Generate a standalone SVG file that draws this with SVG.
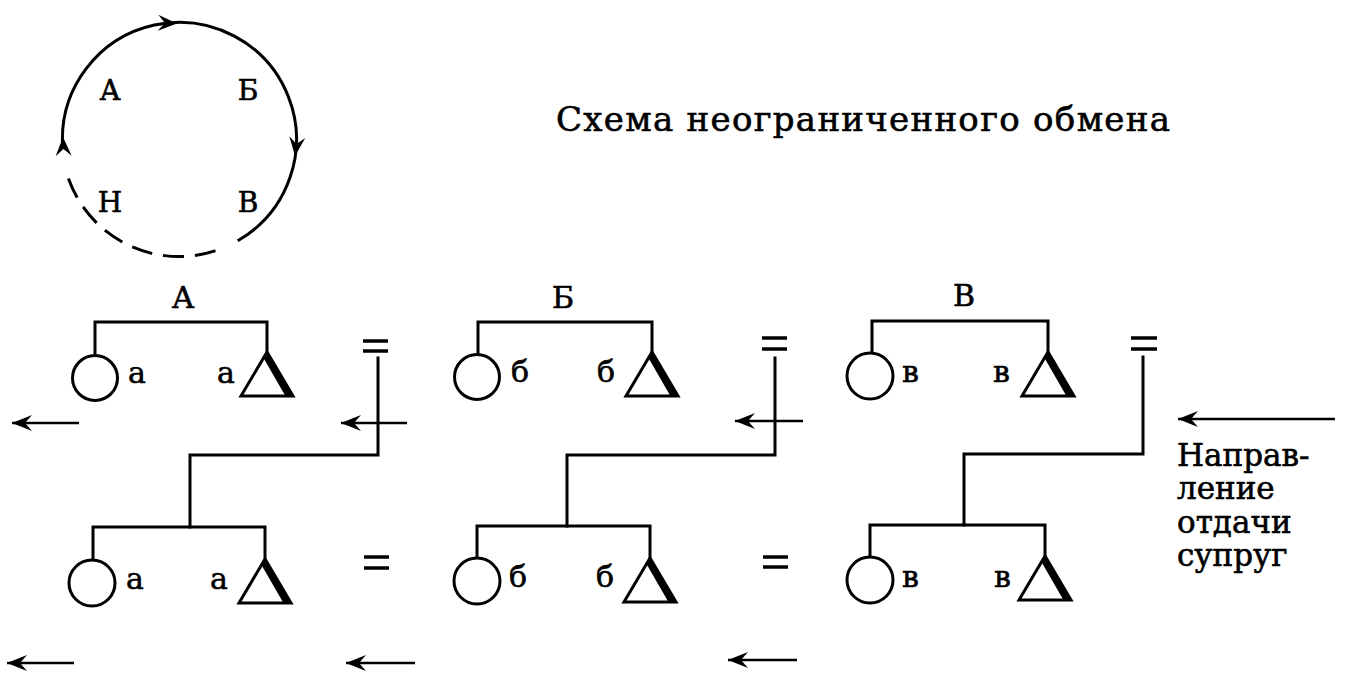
<svg xmlns="http://www.w3.org/2000/svg" xmlns:xlink="http://www.w3.org/1999/xlink" width="1346" height="686" viewBox="0 0 1346 686">
<style>
  .ln{fill:none;stroke:#000;stroke-width:3;stroke-linecap:square;stroke-linejoin:miter}
  .ci{fill:#fff;stroke:#000;stroke-width:3}
  .eq{stroke:#000;stroke-width:3.5;stroke-linecap:butt}
  .arr{stroke:#000;stroke-width:2.5;fill:none}
  .t{font-family:"DejaVu Serif","Liberation Serif",serif;fill:#000;stroke:#000;stroke-width:0.6}
  .big{font-size:30px}
  .sm{font-size:30px}
  .cl{font-size:28px}
</style>
<defs>
  <marker id="ah" viewBox="-22 -11 24 22" markerUnits="userSpaceOnUse" markerWidth="24" markerHeight="22" refX="0" refY="0" orient="auto">
    <path d="M0,0 L-20,-8 L-13,0 L-20,8 Z" fill="#000"/>
  </marker>
  <path id="head" d="M0,0 L-19,-8 L-12,0 L-19,8 Z" fill="#000"/>
  <g id="tri">
    <polygon points="0,0 -26,44 26,44" fill="#fff" stroke="#000" stroke-width="3" stroke-linejoin="miter"/>
    <polygon points="0,-1 27,45 19,45 -3.5,6" fill="#000"/>
  </g>
</defs>

<rect width="1346" height="686" fill="#fff"/>

<!-- cycle diagram -->
<g id="cycle">
  <path class="ln" d="M239,240 A117,117 0 1 0 62.6,146"/>
  <path class="ln" d="M69,180 A117,117 0 0 0 220,249" stroke-dasharray="18 14" stroke-linecap="butt"/>
  <use xlink:href="#head" transform="translate(177,23.5) rotate(2)"/>
  <use xlink:href="#head" transform="translate(295,156) rotate(97)"/>
  <use xlink:href="#head" transform="translate(63,137) rotate(-92)"/>
  <text class="t cl" x="110" y="100" text-anchor="middle">А</text>
  <text class="t cl" x="248" y="100" text-anchor="middle">Б</text>
  <text class="t cl" x="110" y="212" text-anchor="middle">Н</text>
  <text class="t cl" x="248" y="212" text-anchor="middle">В</text>
</g>

<g id="title">
  <text class="t" x="556" y="131" font-size="34" textLength="614" lengthAdjust="spacing">Схема неограниченного обмена</text>
</g>

<!-- top row families -->
<g id="family-A-top">
  <text class="t big" x="183" y="308" text-anchor="middle">А</text>
  <path class="ln" d="M95,355 V322 H267 V352"/>
  <circle class="ci" cx="95" cy="378" r="22.5"/>
  <use xlink:href="#tri" x="267" y="352"/>
  <text class="t sm" x="128" y="383">а</text>
  <text class="t sm" x="217" y="383">а</text>
</g>
<g id="family-B-top">
  <text class="t big" x="563" y="308" text-anchor="middle">Б</text>
  <path class="ln" d="M478,354 V322 H652 V352"/>
  <circle class="ci" cx="477" cy="377" r="22.5"/>
  <use xlink:href="#tri" x="652" y="352"/>
  <text class="t sm" x="511" y="382">б</text>
  <text class="t sm" x="597" y="382">б</text>
</g>
<g id="family-V-top">
  <text class="t big" x="964" y="306" text-anchor="middle">В</text>
  <path class="ln" d="M872,353 V321 H1048 V352"/>
  <circle class="ci" cx="870" cy="376" r="23"/>
  <use xlink:href="#tri" x="1048" y="352"/>
  <text class="t sm" x="902" y="382">в</text>
  <text class="t sm" x="993" y="382">в</text>
</g>

<!-- bottom row families -->
<g id="family-A-bottom">
  <path class="ln" d="M93,560 V527 H265 V559"/>
  <circle class="ci" cx="92" cy="583" r="23"/>
  <use xlink:href="#tri" x="265" y="559"/>
  <text class="t sm" x="126" y="589">а</text>
  <text class="t sm" x="210" y="589">а</text>
</g>
<g id="family-B-bottom">
  <path class="ln" d="M477,558 V526 H650 V558"/>
  <circle class="ci" cx="477" cy="581" r="23"/>
  <use xlink:href="#tri" x="650" y="558"/>
  <text class="t sm" x="509" y="587">б</text>
  <text class="t sm" x="596" y="587">б</text>
</g>
<g id="family-V-bottom">
  <path class="ln" d="M870,557 V525 H1045 V557"/>
  <circle class="ci" cx="870" cy="580" r="23"/>
  <use xlink:href="#tri" x="1045" y="556"/>
  <text class="t sm" x="902" y="587">в</text>
  <text class="t sm" x="994" y="587">в</text>
</g>

<!-- marriage equals signs -->
<g id="equals">
  <line class="eq" x1="363" y1="341" x2="388" y2="341"/><line class="eq" x1="363" y1="351" x2="388" y2="351"/>
  <line class="eq" x1="762" y1="338" x2="787" y2="338"/><line class="eq" x1="762" y1="349" x2="787" y2="349"/>
  <line class="eq" x1="1131" y1="338" x2="1157" y2="338"/><line class="eq" x1="1131" y1="349" x2="1157" y2="349"/>
  <line class="eq" x1="364" y1="557" x2="389" y2="557"/><line class="eq" x1="364" y1="568" x2="389" y2="568"/>
  <line class="eq" x1="763" y1="557" x2="788" y2="557"/><line class="eq" x1="763" y1="567" x2="788" y2="567"/>
</g>

<!-- connectors -->
<g id="connectors">
  <path class="ln" d="M378,358 V455 H190 V527"/>
  <path class="ln" d="M775,358 V455 H567 V526"/>
  <path class="ln" d="M1143,357 V454 H964 V525"/>
  <line class="arr" x1="79" y1="423" x2="12" y2="423" marker-end="url(#ah)"/>
  <line class="arr" x1="407" y1="423" x2="341" y2="423" marker-end="url(#ah)"/>
  <line class="arr" x1="803" y1="421" x2="735" y2="421" marker-end="url(#ah)"/>
  <line class="arr" x1="1335" y1="419" x2="1178" y2="419" marker-end="url(#ah)"/>
  <line class="arr" x1="74" y1="663" x2="7" y2="663" marker-end="url(#ah)"/>
  <line class="arr" x1="415" y1="663" x2="346" y2="663" marker-end="url(#ah)"/>
  <line class="arr" x1="797" y1="660" x2="728" y2="660" marker-end="url(#ah)"/>
</g>

<g id="direction-label">
  <text class="t" font-size="31" x="1177" y="466">Направ-</text>
  <text class="t" font-size="31" x="1177" y="499">ление</text>
  <text class="t" font-size="31" x="1177" y="533">отдачи</text>
  <text class="t" font-size="31" x="1177" y="566">супруг</text>
</g>
</svg>
